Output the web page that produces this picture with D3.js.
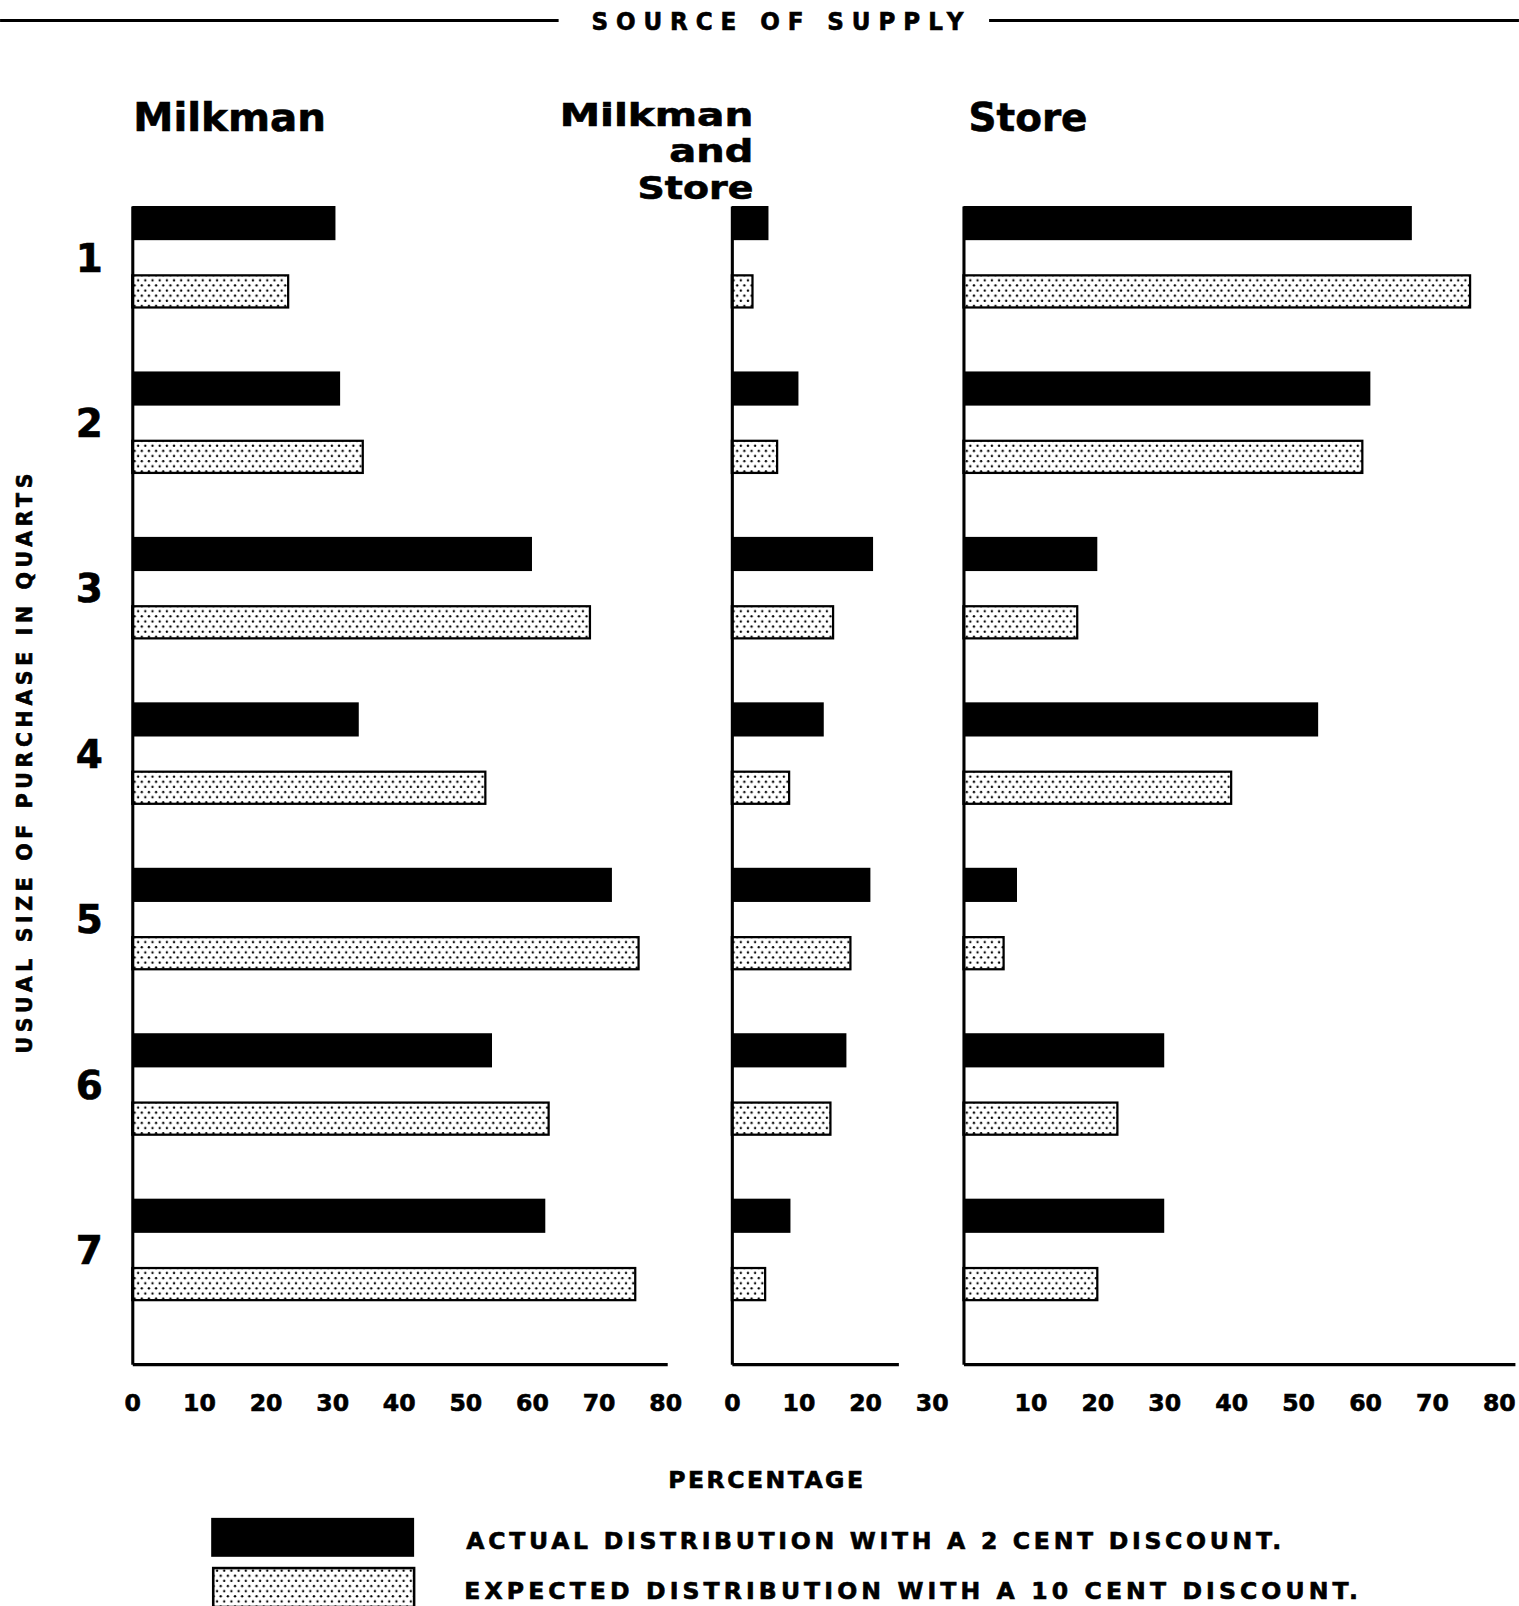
<!DOCTYPE html>
<html>
<head>
<meta charset="UTF-8">
<title>Source of Supply</title>
<script src="https://d3js.org/d3.v7.min.js"></script>
<style>
  body { margin: 0; background: white; }
  svg { display: block; background: white; }
  text { font-family: "DejaVu Sans", sans-serif; font-weight: bold; fill: black;
         stroke: black; stroke-width: 0.6px; }
</style>
</head>
<body>
<svg id="chart"></svg>
<script>
// --- data (percent) ---
const sizes = ["1", "2", "3", "4", "5", "6", "7"];
const seriesKeys = ["actual", "expected"];
const seriesLabels = ["ACTUAL DISTRIBUTION WITH A 2 CENT DISCOUNT.",
                      "EXPECTED DISTRIBUTION WITH A 10 CENT DISCOUNT."];

const milkmanActual   = [30.5, 31.2, 60, 34, 72, 54, 62];
const milkmanExpected = [23.4, 34.6, 68.7, 53, 76, 62.5, 75.5];
const bothActual      = [5.5, 10, 21.2, 13.8, 20.8, 17.2, 8.8];
const bothExpected    = [3.1, 6.8, 15.2, 8.6, 17.8, 14.8, 5];
const storeActual     = [67, 60.8, 20, 53, 8, 30, 30];
const storeExpected   = [75.7, 59.6, 17, 40, 6, 23, 20];

const milkmanTicks = [0, 10, 20, 30, 40, 50, 60, 70, 80];
const bothTicks    = [0, 10, 20, 30];
const storeTicks   = [10, 20, 30, 40, 50, 60, 70, 80];

// drawing units (scaled to the window by the viewBox)
const W = 1482, H = 1567;

const svg = d3.select("#chart")
  .attr("width", 1519)
  .attr("height", 1606)
  .attr("viewBox", `0 0 ${W} ${H}`);

// dotted fill
const defs = svg.append("defs");
const pat = defs.append("pattern")
  .attr("id", "dots")
  .attr("patternUnits", "userSpaceOnUse")
  .attr("width", 7).attr("height", 10);
pat.append("rect").attr("width", 7).attr("height", 10).attr("fill", "white");
pat.append("circle").attr("cx", 1.75).attr("cy", 2.5).attr("r", 1.15).attr("fill", "black");
pat.append("circle").attr("cx", 5.25).attr("cy", 7.5).attr("r", 1.15).attr("fill", "black");

// header
svg.append("line").attr("x1", 0).attr("x2", 545).attr("y1", 20).attr("y2", 20)
  .attr("stroke", "black").attr("stroke-width", 3);
svg.append("line").attr("x1", 965).attr("x2", W).attr("y1", 20).attr("y2", 20)
  .attr("stroke", "black").attr("stroke-width", 3);
svg.append("text")
  .attr("x", 577).attr("y", 29)
  .attr("textLength", 363).attr("lengthAdjust", "spacing")
  .style("font-family", "'DejaVu Sans Condensed', 'DejaVu Sans', sans-serif")
  .style("font-size", "25px")
  .text("SOURCE OF SUPPLY");

// rows
const y = d3.scaleBand().domain(sizes).range([201, 1331]);
const ySub = d3.scaleBand().domain(seriesKeys).range([0, 100]).paddingInner(0.5);

const panels = [
  {name: "milkman", actual: milkmanActual, expected: milkmanExpected,
   ticks: milkmanTicks, x0: 129, unit: 6.5, max: 80.3},
  {name: "both", actual: bothActual, expected: bothExpected,
   ticks: bothTicks, x0: 714, unit: 6.5, max: 25},
  {name: "store", actual: storeActual, expected: storeExpected,
   ticks: storeTicks, x0: 940, unit: 6.53, max: 82.4}
];

panels.forEach(p => {
  const x = d3.scaleLinear().domain([0, p.max]).range([p.x0, p.x0 + p.max * p.unit]);
  const g = svg.append("g").attr("class", p.name);

  const rows = sizes.map((s, i) => ({size: s, actual: p.actual[i], expected: p.expected[i]}));

  g.selectAll("g.row")
    .data(rows)
    .join("g")
    .attr("class", "row")
    .attr("transform", d => `translate(0, ${y(d.size)})`)
    .selectAll("rect")
    .data(d => seriesKeys.map(k => ({key: k, value: d[k]})))
    .join("rect")
    .attr("x", x(0))
    .attr("y", d => ySub(d.key) + (d.key === "expected" ? 1 : 0))
    .attr("width", d => x(d.value) - x(0))
    .attr("height", d => ySub.bandwidth() - (d.key === "expected" ? 2 : 0))
    .attr("fill", d => d.key === "actual" ? "black" : "url(#dots)")
    .attr("stroke", d => d.key === "actual" ? "none" : "black")
    .attr("stroke-width", 2.2);

  // bottom axis
  const ax = g.append("g")
    .attr("transform", `translate(0, ${y.range()[1]})`)
    .call(d3.axisBottom(x).tickValues(p.ticks).tickSize(0).tickSizeOuter(0).tickPadding(29));
  ax.select(".domain").attr("stroke-width", 3.2);
  ax.selectAll("text")
    .attr("fill", "black")
    .style("font-family", "'DejaVu Sans', sans-serif")
    .style("font-weight", "bold")
    .style("font-size", "23px");

  // left axis line
  const ay = g.append("g")
    .attr("transform", `translate(${x(0)}, 0)`)
    .call(d3.axisLeft(y).tickValues([]).tickSizeOuter(0));
  ay.select(".domain").attr("stroke-width", 3);
});

// row labels
svg.append("g").selectAll("text")
  .data(sizes)
  .join("text")
  .attr("x", 87)
  .attr("y", d => y(d) + 50 + 14)
  .attr("text-anchor", "middle")
  .style("font-size", "38px")
  .text(d => d);

// panel titles
const titles = [
  {lines: ["Milkman"], x: 130, y0: 128, pitch: 0, anchor: "start", widths: [188], size: 38},
  {lines: ["Milkman", "and", "Store"], x: 735, y0: 123, pitch: 35.5, anchor: "end",
   widths: [189, 82, 113], size: 31},
  {lines: ["Store"], x: 945, y0: 128, pitch: 0, anchor: "start", widths: [116], size: 38}
];
titles.forEach(t => {
  t.lines.forEach((line, i) => {
    svg.append("text")
      .attr("x", t.x)
      .attr("y", t.y0 + i * t.pitch)
      .attr("text-anchor", t.anchor)
      .attr("textLength", t.widths[i])
      .attr("lengthAdjust", "spacingAndGlyphs")
      .style("font-size", t.size + "px")
      .text(line);
  });
});

// y axis title
svg.append("text")
  .attr("transform", "translate(31, 745) rotate(-90)")
  .attr("text-anchor", "middle")
  .attr("textLength", 566)
  .attr("lengthAdjust", "spacing")
  .style("font-size", "20px")
  .text("USUAL SIZE OF PURCHASE IN QUARTS");

// x axis title
svg.append("text")
  .attr("x", 652).attr("y", 1452)
  .attr("textLength", 190)
  .attr("lengthAdjust", "spacing")
  .style("font-size", "23px")
  .text("PERCENTAGE");

// legend
const legend = svg.append("g").selectAll("g")
  .data(seriesKeys)
  .join("g")
  .attr("transform", (d, i) => `translate(0, ${1481 + i * 49})`);
legend.append("rect")
  .attr("x", d => d === "actual" ? 206 : 208)
  .attr("y", 0)
  .attr("width", d => d === "actual" ? 198 : 196)
  .attr("height", 38)
  .attr("fill", d => d === "actual" ? "black" : "url(#dots)")
  .attr("stroke", d => d === "actual" ? "none" : "black")
  .attr("stroke-width", 2.5);
legend.append("text")
  .attr("x", (d, i) => i === 0 ? 455 : 453)
  .attr("y", 30)
  .attr("textLength", (d, i) => i === 0 ? 795 : 872)
  .attr("lengthAdjust", "spacing")
  .style("font-size", "23px")
  .text((d, i) => seriesLabels[i]);
</script>
</body>
</html>
